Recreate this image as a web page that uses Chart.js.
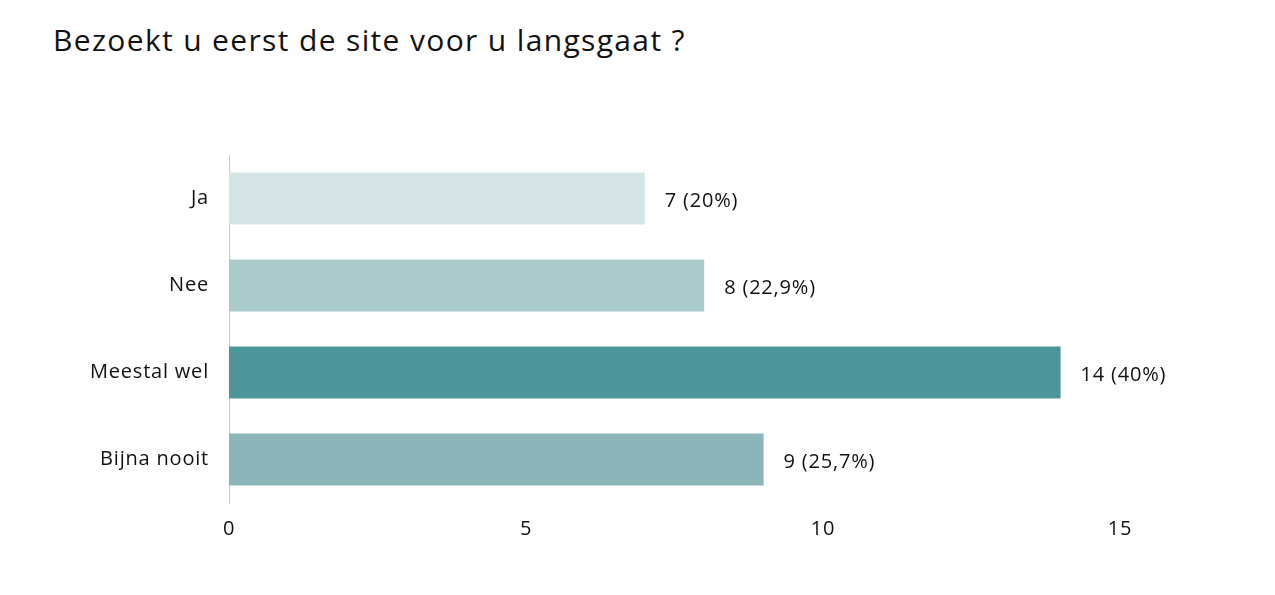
<!DOCTYPE html>
<html>
<head>
<meta charset="utf-8">
<script src="https://cdn.jsdelivr.net/npm/chart.js@4/dist/chart.umd.min.js"></script>
<style>
  html, body { margin: 0; padding: 0; background: #fff; }
  #wrap { position: relative; width: 1275px; height: 595px; }
  #title {
    position: absolute; left: 53px; top: 19px;
    font-family: "Open Sans", "Noto Sans", sans-serif; font-size: 30px;
    letter-spacing: 1.35px; color: #111;
  }
  canvas { position: absolute; left: 0; top: 0; }
</style>
</head>
<body>
<div id="wrap">
  <div id="title">Bezoekt u eerst de site voor u langsgaat ?</div>
  <canvas id="chart" width="1275" height="595"></canvas>
</div>
<script>
// answers and counts
const categories = ['Ja', 'Nee', 'Meestal wel', 'Bijna nooit'];
const counts = [7, 8, 14, 9];
const shares = ['20%', '22,9%', '40%', '25,7%'];
const barColors = ['#d5e5e5', '#aacbcc', '#4c959a', '#8bb5b8'];
const xTicks = [0, 5, 10, 15];

const fontFamily = '"Open Sans", "Noto Sans", sans-serif';

// slightly wider text, closer to the original typeface
const spacing = {
    id: 'spacing',
    beforeDraw(chart) { chart.ctx.letterSpacing = '0.8px'; }
};

// draws "n (pct)" right after each bar
const valueLabels = {
    id: 'valueLabels',
    afterDatasetsDraw(chart) {
        const ctx = chart.ctx;
        const meta = chart.getDatasetMeta(0);
        ctx.save();
        ctx.font = '20px ' + fontFamily;
        ctx.fillStyle = '#111';
        ctx.textBaseline = 'middle';
        ctx.textAlign = 'left';
        meta.data.forEach((bar, i) => {
            ctx.fillText(counts[i] + ' (' + shares[i] + ')', bar.x + 20, bar.y + 3);
        });
        ctx.restore();
    }
};

new Chart(document.getElementById('chart').getContext('2d'), {
    type: 'bar',
    data: {
        labels: categories,
        datasets: [{
            data: counts,
            backgroundColor: barColors,
            borderWidth: 0,
            categoryPercentage: 0.6,
            barPercentage: 1
        }]
    },
    options: {
        indexAxis: 'y',
        responsive: false,
        animation: false,
        layout: { padding: { top: 155, right: 155, bottom: 32, left: 0 } },
        plugins: {
            legend: { display: false },
            tooltip: { enabled: false }
        },
        scales: {
            x: {
                min: 0,
                max: 15,
                afterBuildTicks(scale) {
                    scale.ticks = xTicks.map(v => ({ value: v }));
                },
                afterFit(scale) { scale.height = 60; },
                grid: { display: false, drawTicks: false },
                border: { display: false },
                ticks: {
                    padding: 14,
                    color: '#111',
                    font: { family: fontFamily, size: 20 }
                }
            },
            y: {
                afterFit(scale) { scale.width = 229; },
                grid: { display: false, drawTicks: false },
                border: { display: true, color: '#c8c8c8', width: 1 },
                ticks: {
                    padding: 20,
                    color: '#111',
                    font: { family: fontFamily, size: 20, lineHeight: 1.4 }
                }
            }
        }
    },
    plugins: [spacing, valueLabels]
});
</script>
</body>
</html>
